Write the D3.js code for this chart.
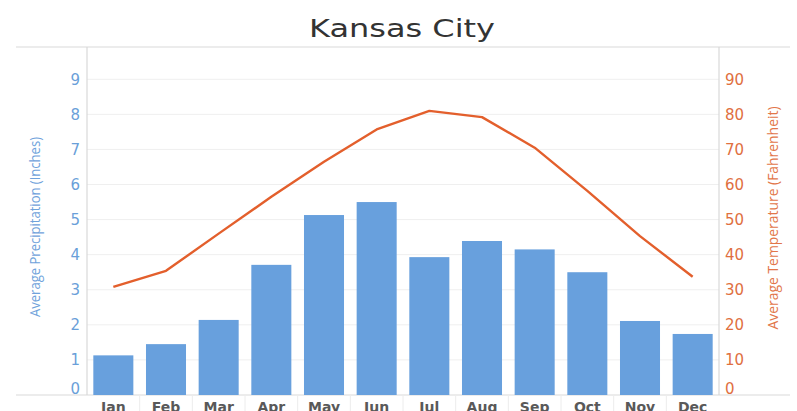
<!DOCTYPE html>
<html>
<head>
<meta charset="utf-8">
<title>Kansas City</title>
<script src="https://cdn.jsdelivr.net/npm/d3@7"></script>
<style>
  body { margin: 0; background: #fff; }
  svg { display: block; }
</style>
</head>
<body>
<svg id="chart" width="797" height="411"></svg>
<script>
var months = ["Jan","Feb","Mar","Apr","May","Jun","Jul","Aug","Sep","Oct","Nov","Dec"];
var precip = [1.13, 1.45, 2.14, 3.71, 5.13, 5.50, 3.93, 4.39, 4.15, 3.50, 2.11, 1.74];
var temp = [30.8, 35.4, 46.0, 56.5, 66.5, 75.7, 81.0, 79.2, 70.5, 58.2, 45.3, 33.7];
var precipTicks = [0,1,2,3,4,5,6,7,8,9];
var tempTicks = [0,10,20,30,40,50,60,70,80,90];

var svg = d3.select("#chart");
// plot edges (don't call it "top", that's window.top)
var plotL = 87, plotR = 719, plotT = 47, plotB = 395;

var x = d3.scaleBand().domain(months).range([plotL, plotR]).paddingInner(0.24).paddingOuter(0.12);
var yP = d3.scaleLinear().domain([0, 9.92]).range([plotB, plotT]);
var yT = d3.scaleLinear().domain([0, 99.2]).range([plotB, plotT]);

// grid
svg.append("g").selectAll("line")
  .data(precipTicks.filter(function(d){ return d > 0; }))
  .enter().append("line")
  .attr("x1", plotL).attr("x2", plotR)
  .attr("y1", function(d){ return yP(d); }).attr("y2", function(d){ return yP(d); })
  .attr("stroke", "#efefef").attr("stroke-width", 1);

// frame
var frame = svg.append("g").attr("stroke", "#d9d9d9").attr("stroke-width", 1.2);
frame.append("line").attr("x1", 16).attr("x2", 790).attr("y1", plotT).attr("y2", plotT);
frame.append("line").attr("x1", 16).attr("x2", 790).attr("y1", plotB).attr("y2", plotB);
frame.append("line").attr("x1", plotL).attr("x2", plotL).attr("y1", plotT).attr("y2", plotB);
frame.append("line").attr("x1", plotR).attr("x2", plotR).attr("y1", plotT).attr("y2", plotB);

// category separators under axis
var step = x.step();
svg.append("g").selectAll("line")
  .data(d3.range(1, months.length))
  .enter().append("line")
  .attr("x1", function(i){ return plotL + i * step; })
  .attr("x2", function(i){ return plotL + i * step; })
  .attr("y1", plotB).attr("y2", 411)
  .attr("stroke", "#ececec");

// bars
svg.append("g").selectAll("rect")
  .data(precip)
  .enter().append("rect")
  .attr("x", function(d, i){ return x(months[i]); })
  .attr("width", x.bandwidth())
  .attr("y", function(d){ return yP(d); })
  .attr("height", function(d){ return plotB - yP(d); })
  .attr("fill", "#68a0dd");

// temperature line
var line = d3.line()
  .x(function(d, i){ return x(months[i]) + x.bandwidth() / 2; })
  .y(function(d){ return yT(d); });
svg.append("path")
  .datum(temp)
  .attr("d", line)
  .attr("fill", "none")
  .attr("stroke", "#e35f2c")
  .attr("stroke-width", 2.4)
  .attr("stroke-linejoin", "round");

// left tick labels
svg.append("g").selectAll("text")
  .data(precipTicks)
  .enter().append("text")
  .attr("x", 80)
  .attr("y", function(d){ return d === 0 ? yP(d) - 6 : yP(d); })
  .attr("dy", "0.36em")
  .attr("text-anchor", "end")
  .attr("font-family", "DejaVu Sans, Verdana, sans-serif")
  .attr("font-size", 15)
  .attr("fill", "#6a9fd9")
  .text(function(d){ return d; });

// right tick labels
svg.append("g").selectAll("text")
  .data(tempTicks)
  .enter().append("text")
  .attr("x", 725)
  .attr("y", function(d){ return d === 0 ? yT(d) - 6 : yT(d); })
  .attr("dy", "0.36em")
  .attr("text-anchor", "start")
  .attr("font-family", "DejaVu Sans, Verdana, sans-serif")
  .attr("font-size", 15)
  .attr("fill", "#e0703f")
  .text(function(d){ return d; });

// month labels
svg.append("g").selectAll("text")
  .data(months)
  .enter().append("text")
  .attr("x", function(d){ return x(d) + x.bandwidth() / 2; })
  .attr("y", 412)
  .attr("text-anchor", "middle")
  .attr("font-family", "DejaVu Sans, Verdana, sans-serif")
  .attr("font-weight", "bold")
  .attr("font-size", 14)
  .attr("fill", "#595959")
  .text(function(d){ return d; });

// title
svg.append("text")
  .attr("x", 402).attr("y", 37)
  .attr("text-anchor", "middle")
  .attr("font-family", "DejaVu Sans, Verdana, sans-serif")
  .attr("font-size", 25)
  .attr("fill", "#333")
  .attr("textLength", 186)
  .attr("lengthAdjust", "spacingAndGlyphs")
  .text("Kansas City");

// axis titles
svg.append("text")
  .attr("transform", "translate(40,227) rotate(-90)")
  .attr("text-anchor", "middle")
  .attr("font-family", "Open Sans, sans-serif")
  .attr("font-size", 15)
  .attr("fill", "#6fa2db")
  .attr("textLength", 180)
  .attr("lengthAdjust", "spacingAndGlyphs")
  .text("Average Precipitation (Inches)");

svg.append("text")
  .attr("transform", "translate(778,218) rotate(-90)")
  .attr("text-anchor", "middle")
  .attr("font-family", "Open Sans, sans-serif")
  .attr("font-size", 15)
  .attr("fill", "#e2764a")
  .attr("textLength", 223)
  .attr("lengthAdjust", "spacingAndGlyphs")
  .text("Average Temperature (Fahrenheit)");
</script>
</body>
</html>
